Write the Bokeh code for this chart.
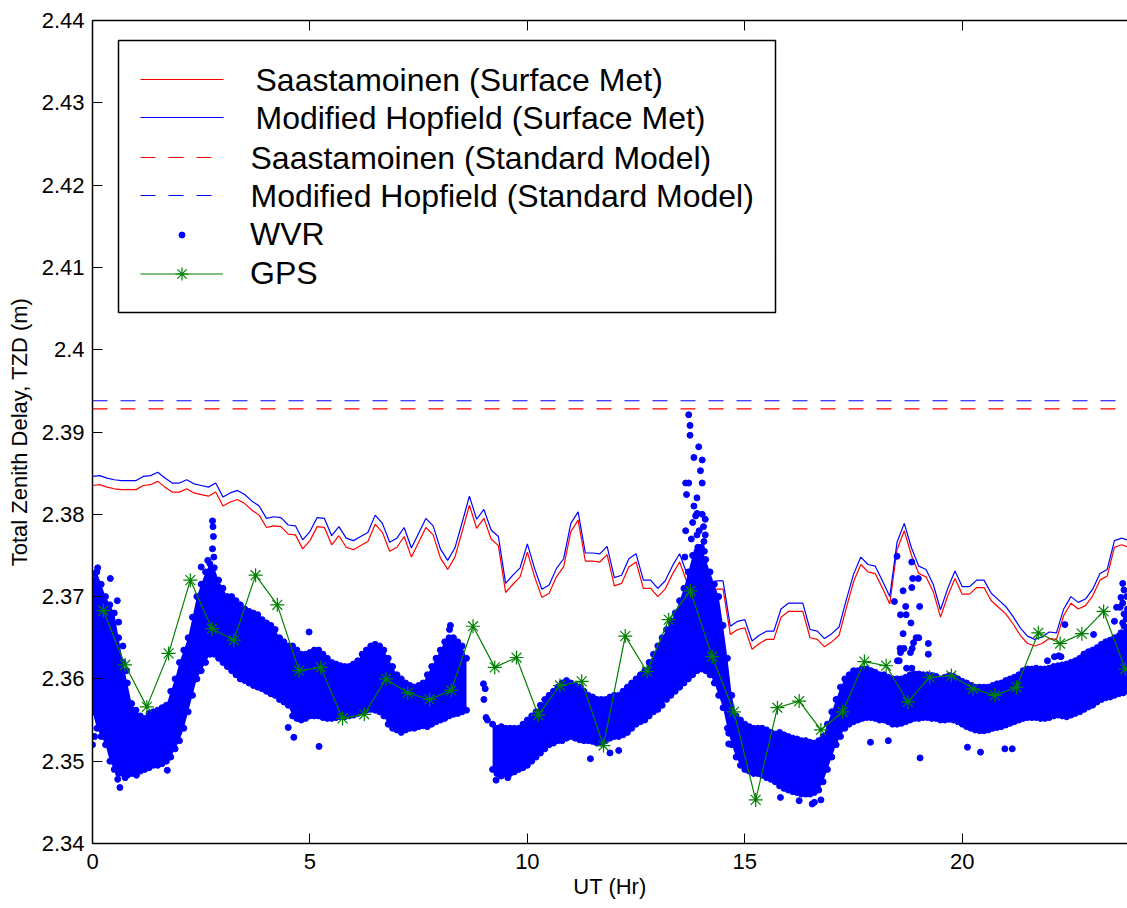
import math
from bokeh.plotting import figure
from bokeh.models import Range1d, FixedTicker, LinearAxis, Legend, LegendItem, BoxAnnotation, Label
from bokeh.embed import file_html
from bokeh.resources import INLINE

FONT = "Liberation Sans"

# ---------------- data ----------------
x_ticks = [0, 5, 10, 15, 20]
y_ticks = [2.34, 2.35, 2.36, 2.37, 2.38, 2.39, 2.40, 2.41, 2.42, 2.43, 2.44]
y_tick_labels = ["2.34", "2.35", "2.36", "2.37", "2.38", "2.39", "2.4", "2.41", "2.42", "2.43", "2.44"]

# surface-met models, one value every 10 minutes
saast_met = [
    2.3835, 2.3836, 2.3833, 2.3831, 2.3830, 2.3830, 2.3830, 2.3835, 2.3836, 2.3840, 2.3833, 2.3827,
    2.3827, 2.3831, 2.3826, 2.3824, 2.3822, 2.3827, 2.3810, 2.3815, 2.3818, 2.3813, 2.3805, 2.3799,
    2.3784, 2.3786, 2.3785, 2.3776, 2.3775, 2.3758, 2.3768, 2.3785, 2.3784, 2.3763, 2.3774, 2.3760,
    2.3757, 2.3762, 2.3767, 2.3788, 2.3778, 2.3755, 2.3760, 2.3773, 2.3748, 2.3766, 2.3784, 2.3775,
    2.3747, 2.3733, 2.3748, 2.3779, 2.3811, 2.3783, 2.3795, 2.3770, 2.3762, 2.3705, 2.3715, 2.3724,
    2.3754, 2.3724, 2.3699, 2.3704, 2.3724, 2.3736, 2.3779, 2.3793, 2.3743, 2.3743, 2.3742, 2.3751,
    2.3713, 2.3716, 2.3736, 2.3742, 2.3710, 2.3710, 2.3700, 2.3709, 2.3727, 2.3742, 2.3718, 2.3698,
    2.3701, 2.3706, 2.3709, 2.3709, 2.3654, 2.3660, 2.3662, 2.3636, 2.3643, 2.3648, 2.3648, 2.3675,
    2.3682, 2.3682, 2.3682, 2.3650, 2.3648, 2.3639, 2.3645, 2.3653, 2.3686, 2.3718, 2.3739, 2.3730,
    2.3728, 2.3710, 2.3691, 2.3757, 2.3780, 2.3750, 2.3728, 2.3724, 2.3706, 2.3675, 2.3701, 2.3722,
    2.3703, 2.3703, 2.3711, 2.3711, 2.3695, 2.3687, 2.3679, 2.3667, 2.3653, 2.3643, 2.3640, 2.3643,
    2.3649, 2.3648, 2.3677, 2.3692, 2.3685, 2.3689, 2.3701, 2.3720, 2.3725, 2.3760, 2.3763, 2.3760,
]
hopf_met = [
    2.3846, 2.3847, 2.3844, 2.3842, 2.3841, 2.3841, 2.3841, 2.3846, 2.3847, 2.3851, 2.3844, 2.3838,
    2.3838, 2.3842, 2.3837, 2.3835, 2.3833, 2.3838, 2.3821, 2.3826, 2.3829, 2.3824, 2.3816, 2.3810,
    2.3795, 2.3797, 2.3796, 2.3787, 2.3786, 2.3769, 2.3779, 2.3796, 2.3795, 2.3774, 2.3785, 2.3771,
    2.3768, 2.3773, 2.3778, 2.3799, 2.3789, 2.3766, 2.3771, 2.3784, 2.3759, 2.3777, 2.3795, 2.3786,
    2.3758, 2.3744, 2.3759, 2.3790, 2.3822, 2.3794, 2.3806, 2.3781, 2.3773, 2.3716, 2.3726, 2.3735,
    2.3764, 2.3734, 2.3709, 2.3714, 2.3734, 2.3746, 2.3789, 2.3803, 2.3753, 2.3753, 2.3752, 2.3761,
    2.3723, 2.3726, 2.3746, 2.3752, 2.3720, 2.3720, 2.3710, 2.3719, 2.3737, 2.3752, 2.3728, 2.3708,
    2.3711, 2.3716, 2.3719, 2.3719, 2.3664, 2.3670, 2.3672, 2.3646, 2.3653, 2.3658, 2.3658, 2.3685,
    2.3692, 2.3692, 2.3692, 2.3660, 2.3658, 2.3649, 2.3655, 2.3663, 2.3696, 2.3727, 2.3748, 2.3739,
    2.3737, 2.3719, 2.3700, 2.3766, 2.3789, 2.3759, 2.3737, 2.3733, 2.3715, 2.3684, 2.3710, 2.3731,
    2.3712, 2.3712, 2.3720, 2.3720, 2.3704, 2.3696, 2.3688, 2.3676, 2.3662, 2.3652, 2.3648, 2.3651,
    2.3657, 2.3656, 2.3685, 2.3700, 2.3693, 2.3697, 2.3709, 2.3728, 2.3733, 2.3768, 2.3771, 2.3768,
]
met_hours = [k / 6 for k in range(len(saast_met))]

# standard-atmosphere models (constant)
std_hours = [0, 24]
saast_std = 2.3928
hopf_std = 2.3938

# GPS estimates, every half hour starting at 0.25 h
gps_tzd = [
    2.3683, 2.3617, 2.3566, 2.3631, 2.3720, 2.3661, 2.3647, 2.3726, 2.3690, 2.3610, 2.3614, 2.3552,
    2.3557, 2.3600, 2.3583, 2.3575, 2.3586, 2.3664, 2.3614, 2.3626, 2.3556, 2.3592, 2.3597, 2.3519,
    2.3652, 2.3609, 2.3672, 2.3707, 2.3627, 2.3560, 2.3453, 2.3565, 2.3573, 2.3538, 2.3560, 2.3621,
    2.3616, 2.3572, 2.3602, 2.3604, 2.3588, 2.3580, 2.3590, 2.3656, 2.3643, 2.3655, 2.3682, 2.3612,
]
gps_hours = [0.25 + 0.5 * k for k in range(len(gps_tzd))]

# WVR: lower / upper edge of the dense point cloud every 0.1 h (nan = no data)
NA = float("nan")
wvr_lo = [
    2.3560, 2.3540, 2.3530, 2.3520, 2.3500, 2.3490, 2.3485, 2.3485, 2.3483, 2.3485,
    2.3487, 2.3488, 2.3490, 2.3492, 2.3495, 2.3495, 2.3497, 2.3500, 2.3505, 2.3515,
    2.3525, 2.3540, 2.3560, 2.3580, 2.3600, 2.3610, 2.3620, 2.3630, 2.3630, 2.3625,
    2.3620, 2.3615, 2.3610, 2.3605, 2.3600, 2.3598, 2.3595, 2.3592, 2.3590, 2.3588,
    2.3585, 2.3582, 2.3580, 2.3575, 2.3572, 2.3568, 2.3555, 2.3552, 2.3550, 2.3552,
    2.3555, 2.3555, 2.3555, 2.3553, 2.3552, 2.3552, 2.3553, 2.3554, 2.3554, 2.3555,
    2.3556, 2.3558, 2.3560, 2.3562, 2.3563, 2.3562, 2.3560, 2.3555, 2.3545, 2.3540,
    2.3538, 2.3535, 2.3538, 2.3540, 2.3540, 2.3542, 2.3543, 2.3542, 2.3545, 2.3548,
    2.3550, 2.3552, 2.3555, 2.3557, 2.3558, 2.3560, 2.3562, NA, NA, NA,
    NA, NA, 2.3490, 2.3485, 2.3482, 2.3485, 2.3485, 2.3487, 2.3490, 2.3492,
    2.3495, 2.3500, 2.3505, 2.3510, 2.3515, 2.3520, 2.3522, 2.3525, 2.3525, 2.3528,
    2.3530, 2.3528, 2.3526, 2.3525, 2.3525, 2.3524, 2.3522, 2.3522, 2.3525, 2.3528,
    2.3530, 2.3530, 2.3532, 2.3535, 2.3540, 2.3545, 2.3548, 2.3550, 2.3555, 2.3560,
    2.3563, 2.3568, 2.3575, 2.3580, 2.3585, 2.3590, 2.3595, 2.3600, 2.3605, 2.3610,
    2.3612, 2.3610, 2.3605, 2.3595, 2.3580, 2.3565, 2.3540, 2.3520, 2.3505, 2.3495,
    2.3490, 2.3488, 2.3485, 2.3485, 2.3483, 2.3480, 2.3478, 2.3475, 2.3470, 2.3467,
    2.3465, 2.3463, 2.3462, 2.3460, 2.3460, 2.3460, 2.3462, 2.3465, 2.3475, 2.3490,
    2.3505, 2.3520, 2.3530, 2.3540, 2.3545, 2.3548, 2.3550, 2.3552, 2.3553, 2.3553,
    2.3552, 2.3550, 2.3550, 2.3548, 2.3545, 2.3545, 2.3546, 2.3548, 2.3550, 2.3552,
    2.3552, 2.3553, 2.3553, 2.3552, 2.3552, 2.3550, 2.3550, 2.3551, 2.3550, 2.3548,
    2.3545, 2.3542, 2.3540, 2.3538, 2.3537, 2.3537, 2.3538, 2.3540, 2.3541, 2.3542,
    2.3544, 2.3546, 2.3548, 2.3550, 2.3552, 2.3553, 2.3553, 2.3553, 2.3552, 2.3552,
    2.3553, 2.3555, 2.3556, 2.3555, 2.3554, 2.3556, 2.3558, 2.3560, 2.3563, 2.3566,
    2.3568, 2.3572, 2.3575, 2.3577, 2.3578, 2.3580, 2.3582, 2.3583, 2.3585,
]
wvr_hi = [
    2.3720, 2.3730, 2.3715, 2.3700, 2.3690, 2.3680, 2.3650, 2.3620, 2.3595, 2.3570,
    2.3562, 2.3555, 2.3552, 2.3558, 2.3560, 2.3562, 2.3565, 2.3568, 2.3585, 2.3600,
    2.3620, 2.3635, 2.3650, 2.3675, 2.3700, 2.3715, 2.3730, 2.3740, 2.3735, 2.3720,
    2.3710, 2.3700, 2.3700, 2.3695, 2.3690, 2.3685, 2.3682, 2.3680, 2.3678, 2.3672,
    2.3668, 2.3665, 2.3660, 2.3650, 2.3645, 2.3640, 2.3640, 2.3635, 2.3630, 2.3630,
    2.3632, 2.3635, 2.3635, 2.3630, 2.3625, 2.3620, 2.3618, 2.3616, 2.3615, 2.3615,
    2.3618, 2.3622, 2.3630, 2.3635, 2.3640, 2.3642, 2.3640, 2.3635, 2.3625, 2.3615,
    2.3605, 2.3600, 2.3595, 2.3592, 2.3590, 2.3592, 2.3595, 2.3605, 2.3615, 2.3625,
    2.3635, 2.3645, 2.3650, 2.3650, 2.3645, 2.3640, 2.3625, NA, NA, NA,
    NA, NA, 2.3545, 2.3540, 2.3542, 2.3540, 2.3540, 2.3540, 2.3540, 2.3545,
    2.3550, 2.3555, 2.3560, 2.3568, 2.3575, 2.3580, 2.3585, 2.3590, 2.3595, 2.3598,
    2.3595, 2.3592, 2.3590, 2.3585, 2.3580, 2.3578, 2.3575, 2.3575, 2.3575, 2.3578,
    2.3580, 2.3580, 2.3585, 2.3590, 2.3595, 2.3600, 2.3605, 2.3610, 2.3620, 2.3630,
    2.3640, 2.3650, 2.3660, 2.3670, 2.3680, 2.3695, 2.3710, 2.3730, 2.3750, 2.3755,
    2.3760, 2.3745, 2.3730, 2.3715, 2.3700, 2.3665, 2.3625, 2.3580, 2.3555, 2.3550,
    2.3545, 2.3542, 2.3540, 2.3540, 2.3540, 2.3538, 2.3535, 2.3533, 2.3535, 2.3532,
    2.3530, 2.3528, 2.3527, 2.3525, 2.3525, 2.3523, 2.3522, 2.3525, 2.3530, 2.3545,
    2.3560, 2.3575, 2.3590, 2.3600, 2.3605, 2.3610, 2.3610, 2.3612, 2.3612, 2.3610,
    2.3608, 2.3605, 2.3605, 2.3602, 2.3600, 2.3600, 2.3600, 2.3602, 2.3605, 2.3606,
    2.3606, 2.3605, 2.3605, 2.3604, 2.3603, 2.3600, 2.3602, 2.3604, 2.3603, 2.3600,
    2.3597, 2.3595, 2.3592, 2.3590, 2.3590, 2.3590, 2.3590, 2.3592, 2.3594, 2.3595,
    2.3598, 2.3600, 2.3602, 2.3605, 2.3610, 2.3612, 2.3612, 2.3613, 2.3612, 2.3612,
    2.3613, 2.3615, 2.3616, 2.3617, 2.3618, 2.3620, 2.3622, 2.3625, 2.3630, 2.3633,
    2.3635, 2.3638, 2.3642, 2.3645, 2.3647, 2.3650, 2.3652, 2.3655, 2.3660,
]
wvr_hours = [k / 10 for k in range(len(wvr_lo))]

# WVR: isolated points outside the dense cloud (hour, TZD)
wvr_extra = [
    (0.12, 2.3735), (0.05, 2.3728), (0.41, 2.3722), (0.08, 2.3718), (0.15, 2.3712), (0.57, 2.3695),
    (0.60, 2.3669), (0.00, 2.3520), (0.05, 2.3530), (0.63, 2.3468), (0.58, 2.3478), (0.75, 2.3480),
    (0.70, 2.3640), (0.78, 2.3610), (1.01, 2.3483), (1.72, 2.3489),
    (2.76, 2.3792), (2.77, 2.3785), (2.78, 2.3773), (2.76, 2.3758), (2.79, 2.3748), (2.50, 2.3736),
    (2.65, 2.3744), (4.98, 2.3657), (4.63, 2.3529), (5.21, 2.3518), (4.50, 2.3541),
    (8.23, 2.3665), (8.21, 2.3660), (8.99, 2.3594), (9.03, 2.3588), (9.05, 2.3553), (9.08, 2.3550),
    (9.00, 2.3575), (9.28, 2.3477), (9.55, 2.3480), (11.45, 2.3503), (12.10, 2.3513), (11.90, 2.3510),
    (13.71, 2.3921), (13.74, 2.3908), (13.74, 2.3896), (13.94, 2.3882), (13.83, 2.3869), (14.02, 2.3866),
    (13.98, 2.3853), (13.64, 2.3838), (13.71, 2.3838), (14.02, 2.3838), (13.66, 2.3824), (13.90, 2.3820),
    (13.83, 2.3810), (13.87, 2.3798), (13.90, 2.3801), (14.02, 2.3800), (14.09, 2.3794), (13.64, 2.3780),
    (13.77, 2.3770), (13.90, 2.3775), (14.09, 2.3775), (14.06, 2.3767), (14.07, 2.3755), (13.62, 2.3748),
    (13.83, 2.3750), (13.95, 2.3780), (13.80, 2.3790), (13.92, 2.3760), (14.05, 2.3785),
    (14.63, 2.3534), (14.63, 2.3521), (15.82, 2.3456), (16.55, 2.3448), (16.60, 2.3450), (16.25, 2.3452),
    (16.75, 2.3453),
    (18.50, 2.3749), (18.84, 2.3742), (18.86, 2.3722), (18.99, 2.3722), (18.84, 2.3711), (18.64, 2.3707),
    (18.44, 2.3694), (18.70, 2.3688), (19.02, 2.3688), (18.58, 2.3678), (18.71, 2.3678), (18.82, 2.3668),
    (18.64, 2.3655), (18.94, 2.3650), (19.00, 2.3650), (19.22, 2.3643), (18.88, 2.3644), (18.57, 2.3637),
    (18.66, 2.3637), (18.85, 2.3637), (18.58, 2.3632), (18.81, 2.3632), (19.22, 2.3630), (18.51, 2.3622),
    (18.55, 2.3622), (18.84, 2.3613), (18.72, 2.3613),
    (17.89, 2.3523), (19.03, 2.3504), (20.42, 2.3511), (20.12, 2.3517), (20.98, 2.3515), (21.15, 2.3515),
    (18.30, 2.3525), (21.96, 2.3622), (22.22, 2.3628), (22.27, 2.3627), (22.36, 2.3666), (22.83, 2.3622),
    (22.80, 2.3630), (23.02, 2.3654), (22.12, 2.3627),
    (23.69, 2.3716), (23.72, 2.3708), (23.65, 2.3699), (23.69, 2.3692), (23.63, 2.3687), (23.72, 2.3679),
    (23.69, 2.3668), (23.72, 2.3664), (23.65, 2.3656), (23.55, 2.3687), (23.50, 2.3670), (23.53, 2.3648),
    (23.55, 2.3638), (23.60, 2.3633), (23.78, 2.3700), (23.80, 2.3685), (23.77, 2.3673), (23.79, 2.3660),
]
wvr_extra_hours = [a for a, b in wvr_extra]
wvr_extra_tzd = [b for a, b in wvr_extra]

legend_labels = [
    "Saastamoinen (Surface Met)",
    "Modified Hopfield (Surface Met)",
    "Saastamoinen (Standard Model)",
    "Modified Hopfield (Standard Model)",
    "WVR",
    "GPS",
]

RED = "#ff0000"
BLUE = "#0000ff"
GREEN = "#008000"
DASH = "15 13"

# ---------------- layout (pixels) ----------------
W, H = 1127, 908
FRAME_LEFT, FRAME_TOP, FRAME_BOTTOM = 92, 20, 843
X0, X1 = 0, 23.8
Y0, Y1 = 2.34, 2.44
PX_PER_HR = (W - FRAME_LEFT) / (X1 - X0)
PX_PER_M = (FRAME_BOTTOM - FRAME_TOP) / (Y1 - Y0)


def hx(px):
    """canvas x pixel -> hours (used only to place legend sample lines)"""
    return X0 + (px - FRAME_LEFT) / PX_PER_HR


def my(py):
    """canvas y pixel -> metres (used only to place legend sample lines)"""
    return Y1 - (py - FRAME_TOP) / PX_PER_M


# ---------------- figure ----------------
p = figure(width=W, height=H, output_backend="svg", toolbar_location=None,
           x_range=Range1d(X0, X1), y_range=Range1d(Y0, Y1),
           min_border_left=FRAME_LEFT, min_border_right=0, min_border_top=FRAME_TOP,
           min_border_bottom=H - FRAME_BOTTOM)
p.outline_line_color = None
p.grid.visible = False
p.background_fill_color = "white"
p.border_fill_color = "white"

xa = p.xaxis[0]
ya = p.yaxis[0]
xa.ticker = FixedTicker(ticks=x_ticks)
ya.ticker = FixedTicker(ticks=y_ticks)
ya.major_label_overrides = dict(zip(y_ticks, y_tick_labels))
xa.axis_label = "UT (Hr)"
ya.axis_label = "Total Zenith Delay, TZD (m)"
for ax in (xa, ya):
    ax.major_tick_in = 10
    ax.major_tick_out = 0
    ax.minor_tick_in = 0
    ax.minor_tick_out = 0
    ax.axis_line_width = 1.5
    ax.axis_line_color = "black"
    ax.major_tick_line_color = "black"
    ax.major_label_text_font = FONT
    ax.major_label_text_font_size = "22px"
    ax.major_label_text_color = "black"
    ax.axis_label_text_font = FONT
    ax.axis_label_text_font_size = "22px"
    ax.axis_label_text_font_style = "normal"
    ax.axis_label_text_color = "black"
xa.major_label_standoff = 10
xa.axis_label_standoff = 2
ya.major_label_standoff = 8
ya.axis_label_standoff = 7

# mirrored ticks along the top edge (no labels)
top = LinearAxis(ticker=FixedTicker(ticks=x_ticks), major_tick_in=10, major_tick_out=0,
                 minor_tick_in=0, minor_tick_out=0, major_label_text_font_size="0px",
                 major_label_text_color=None, major_label_standoff=0,
                 axis_line_width=1.5, axis_line_color="black")
p.add_layout(top, "above")

# legend sample lines first (drawn before any marker renderer, like the plot lines)
row_centers = [79, 117, 157, 195]
row_text_x = [255, 255, 250, 250]
line_styles = [(RED, "solid"), (BLUE, "solid"), (RED, DASH), (BLUE, DASH)]
for yc, (col, dash) in zip(row_centers, line_styles):
    p.line([hx(140), hx(223)], [my(yc), my(yc)], line_color=col, line_width=1.2, line_dash=dash)

# model lines
p.line(met_hours, saast_met, line_color=RED, line_width=1.2)
p.line(met_hours, hopf_met, line_color=BLUE, line_width=1.2)
p.line(std_hours, [saast_std] * len(std_hours), line_color=RED, line_width=1.2, line_dash=DASH)
p.line(std_hours, [hopf_std] * len(std_hours), line_color=BLUE, line_width=1.2, line_dash=DASH)

# WVR cloud: filled core between edges (split at gaps), edge points, isolated points
seg = []
for i, lo in enumerate(wvr_lo):
    if math.isnan(lo):
        if seg:
            p.varea(x=[wvr_hours[j] for j in seg], y1=[wvr_lo[j] for j in seg],
                    y2=[wvr_hi[j] for j in seg], fill_color=BLUE)
        seg = []
    else:
        seg.append(i)
if seg:
    p.varea(x=[wvr_hours[j] for j in seg], y1=[wvr_lo[j] for j in seg],
            y2=[wvr_hi[j] for j in seg], fill_color=BLUE)

r_wvr = p.scatter(wvr_hours, wvr_lo, marker="circle", size=6, fill_color=BLUE, line_color=BLUE)
p.scatter(wvr_hours, wvr_hi, marker="circle", size=6, fill_color=BLUE, line_color=BLUE)
p.scatter(wvr_extra_hours, wvr_extra_tzd, marker="circle", size=6, fill_color=BLUE, line_color=BLUE)

# GPS
r_gps_line = p.line(gps_hours, gps_tzd, line_color=GREEN, line_width=1.2)
r_gps_pts = p.scatter(gps_hours, gps_tzd, marker="asterisk", size=14, line_color=GREEN, line_width=1.2)

# ---------------- legend box ----------------
p.add_layout(BoxAnnotation(left=118, right=775, top=40, bottom=312,
                           left_units="canvas", right_units="canvas",
                           top_units="canvas", bottom_units="canvas",
                           fill_alpha=0.0, line_color="black", line_alpha=1.0, line_width=1.5,
                           level="annotation"))

for label, yc, tx in zip(legend_labels[:4], row_centers, row_text_x):
    p.add_layout(Label(x=tx, y=yc, x_units="canvas", y_units="canvas", text=label,
                       text_font=FONT, text_font_size="32px", text_color="black",
                       text_baseline="middle", text_align="left"))

# marker entries: Bokeh legends (draw their markers correctly)
for label, rends, yb, gh in zip(legend_labels[4:], [[r_wvr], [r_gps_line, r_gps_pts]],
                                [590, 551], [15, 33]):
    lg = Legend(items=[LegendItem(label=label, renderers=rends)], location=(48, yb))
    lg.label_text_font = FONT
    lg.label_text_font_size = "32px"
    lg.label_text_color = "black"
    lg.glyph_width = 83
    lg.glyph_height = gh
    lg.label_height = 38
    lg.spacing = 0
    lg.padding = 0
    lg.margin = 0
    lg.label_standoff = 27
    lg.border_line_color = None
    lg.background_fill_alpha = 0.0
    p.add_layout(lg)

open("out.html", "w").write(file_html(p, INLINE))
